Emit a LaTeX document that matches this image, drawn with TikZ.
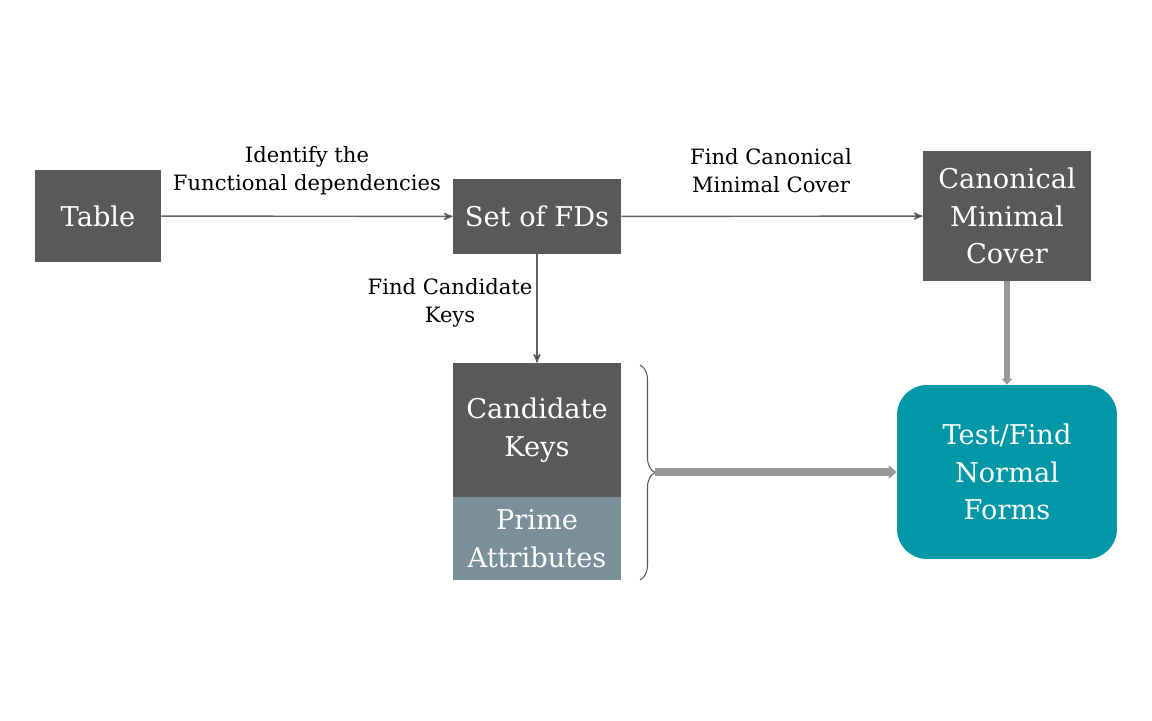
\documentclass[tikz,border=0pt]{standalone}
\usepackage{fontspec}
\setmainfont{DejaVu Serif}
\usetikzlibrary{positioning, arrows, arrows.meta, decorations.pathreplacing}
\definecolor{boxgray}{HTML}{595959}
\definecolor{primegray}{HTML}{7A8F9A}
\definecolor{teal}{HTML}{0097A7}
\definecolor{fatgray}{HTML}{999999}
\begin{document}
\begin{tikzpicture}[x=0.02cm, y=-0.02cm, >=stealth',
	box/.style={align=center, fill=boxgray, text=white, inner sep=0pt, minimum width=3.36cm, font=\fontsize{15.5}{21.5}\selectfont},
	lbl/.style={align=center, font=\fontsize{12}{16}\selectfont},
	thin/.style={->, draw=boxgray!95!white, line width=0.8pt},
	fat/.style={draw=fatgray}]
			\useasboundingbox (0,0) rectangle (1152,720);

			\node[box, minimum width=2.52cm, minimum height=1.84cm] at (98, 216)  (table)  {Table};
			\node[box, minimum height=1.5cm]  at (537, 216.5) (fds)    {Set of FDs};
			\node[box, minimum height=2.6cm]  at (1007, 216)  (canon)  {Canonical\\Minimal\\Cover};
			\node[box, minimum height=2.68cm] at (537, 430)   (cand)   {Candidate\\Keys};
			\node[box, fill=primegray, minimum height=1.66cm, below=-0.3pt of cand] (prime) {Prime\\Attributes};
			\node[box, fill=teal, minimum width=4.4cm, minimum height=3.48cm, rounded corners=0.6cm] at (1007, 472) (test) {Test/Find\\Normal\\Forms};

			\node[lbl] at (307, 171) (lidentify) {Identify the\\Functional dependencies};
			\node[lbl] at (771, 171) (lcanon)    {Find Canonical\\Minimal Cover};
			\node[lbl] at (450, 303) (lcand)     {Find Candidate\\Keys};

			\path[thin]
					(table)	edge	(fds)
					(fds)	edge	(canon)
					(fds)	edge	(cand);

			% brace round both key boxes
			\draw[boxgray, line width=0.6pt, decorate, decoration={brace, amplitude=0.3cm}]
					(640, 365) -- (640, 580);
			\coordinate (bracetip) at (655, 472);

			\draw[fat, line width=4.5pt, -{Triangle[length=4.5pt, width=7.5pt]}] (bracetip) -- (test);
			\draw[fat, line width=3.6pt, -{Triangle[length=3.5pt, width=6pt]}] (canon) -- (test);

		\end{tikzpicture}
\end{document}
